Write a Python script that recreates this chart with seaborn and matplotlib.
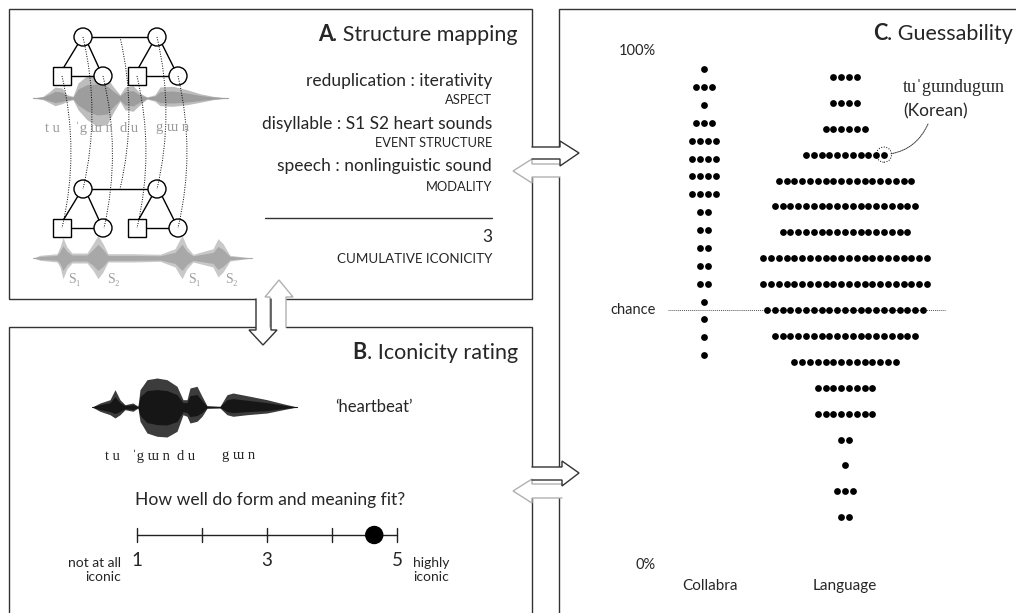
import matplotlib
matplotlib.use("Agg")
import matplotlib.pyplot as plt
from matplotlib.patches import Circle, Rectangle, Polygon, PathPatch, ConnectionPatch
from matplotlib.path import Path
import pandas as pd
import seaborn as sns

sns.set_theme(style="white")
plt.rcParams['font.family'] = ['Lato', 'DejaVu Sans']
SERIF = ['Liberation Serif', 'DejaVu Serif']

# ---- panel C: guessability (percent correct per item, one row per bin) ----
groups = ["Collabra", "Language"]
collabra_levels = [96.5, 93.0, 89.6, 86.1, 82.7, 79.2, 75.8, 72.3, 68.9,
                   65.4, 62.0, 58.5, 55.1, 51.6, 48.2, 44.7, 41.3]
collabra_counts = [1, 3, 1, 3, 4, 4, 4, 4, 2, 2, 2, 2, 2, 1, 1, 1, 1]
language_levels = [95, 90, 85, 80, 75, 70, 65, 60, 55, 50, 45, 40, 35, 30, 25, 20, 15, 10]
language_counts = [4, 4, 6, 11, 18, 19, 17, 22, 22, 21, 19, 14, 8, 8, 2, 1, 3, 2]
chance_level = 50
highlight_level = 80      # row of tu'gɯndugɯn (Korean)
highlight_index = 10      # rightmost dot of that row

# ---- panel B: rating ----
scale_ticks = [1, 2, 3, 4, 5]
scale_labels = {1: "1", 3: "3", 5: "5"}
rating = 4.65

# ---- waveform envelopes (x px, amplitude up / down px) ----
wave_a1_x = [33, 43, 50, 55, 62, 67, 73, 78, 87, 97, 107, 113, 120, 125, 133, 140, 147, 155, 160, 173, 187, 200, 213, 228]
wave_a1_up = [0, 1.7, 6.7, 11, 10, 3.3, 1.7, 15, 22.3, 23.3, 20, 11.7, 3.3, 11, 12.3, 5, 1, 3.3, 11, 11.7, 8.3, 4.3, 1.7, 0]
wave_a1_dn = [0, 1.7, 5, 7.7, 5.7, 3.3, 1.7, 11.7, 21.7, 28.3, 26.7, 15, 3.3, 11.7, 13.3, 6.7, 1, 3.3, 7.7, 8.3, 6.7, 4.3, 1.7, 0]

wave_a2_x = [33, 40, 57, 60, 63, 67, 72, 87, 93, 98, 103, 108, 133, 160, 175, 182, 187, 193, 213, 218, 223, 230, 252]
wave_a2_up = [0, 2.7, 4.3, 11, 20.3, 11, 5, 5, 14.3, 22.7, 14.3, 4.3, 4.3, 3.7, 9.3, 22.7, 11, 3.7, 9.3, 19.3, 14.3, 2.7, 0]
wave_a2_dn = [0, 2.3, 4, 9, 20.7, 10.7, 5, 5, 12.3, 20.7, 14, 4, 4, 3.3, 9, 20.7, 10.7, 4, 9, 19, 14, 3, 0]

wave_b_x = [92, 100, 110, 115, 120, 125, 133, 138, 140, 147, 157, 167, 177, 183, 187, 190, 197, 202, 207, 220, 227, 233, 247, 267, 283, 297]
wave_b_up = [0, 4, 7.3, 17.3, 7.3, 2.3, 4, 0.7, 17.3, 27.3, 29, 27.3, 20.7, 7.3, 7.3, 19, 20.7, 10.7, 1.3, 0.7, 12.3, 14, 11.3, 7.3, 3.3, 0]
wave_b_dn = [0, 4.3, 7.7, 11, 7.7, 2.7, 4.3, 1, 14.3, 26, 29.3, 30, 24.3, 7.7, 9.3, 16, 14.3, 9.3, 1.3, 1, 7.7, 9.3, 7.7, 6, 2.7, 0]

W, H = 1016, 613
fig = plt.figure(figsize=(W / 100, H / 100), dpi=100)
bg = fig.add_axes([0, 0, 1, 1])
bg.set_xlim(0, W)
bg.set_ylim(H, 0)
bg.axis('off')

EDGE = '#333333'
LIGHT = '#b0b0b0'


def seg(pts, color=EDGE, lw=1.0, z=2, **kw):
    xs, ys = zip(*pts)
    bg.plot(xs, ys, color=color, lw=lw, zorder=z, solid_joinstyle='miter', **kw)


def arrow(pts, color):
    bg.add_patch(Polygon(pts, closed=True, facecolor='white', edgecolor='none', zorder=3))
    seg(pts, color=color, z=4)


# panel frames
seg([(256, 299), (9, 299), (9, 9), (532, 9), (532, 147)])
seg([(532, 177), (532, 299), (286, 299)])
seg([(256, 327), (9, 327), (9, 613)])
seg([(286, 327), (532, 327), (532, 467)])
seg([(532, 498), (532, 613)])
seg([(1016, 9), (559, 9), (559, 147)])
seg([(559, 177), (559, 467)])
seg([(559, 498), (559, 613)])

# connecting arrows
arrow([(560, 164), (532, 164), (532, 159), (513, 171), (532, 183), (532, 177), (560, 177)], LIGHT)
arrow([(532, 147), (560, 147), (560, 141), (579, 153), (560, 166), (560, 159), (532, 159)], EDGE)
arrow([(562, 484), (532, 484), (532, 479), (513, 491), (532, 503), (532, 498), (562, 498)], LIGHT)
arrow([(532, 467), (562, 467), (562, 461), (579, 473), (562, 486), (562, 480), (532, 480)], EDGE)
arrow([(270, 327), (270, 297), (265, 297), (279, 280), (293, 297), (286, 297), (286, 327)], LIGHT)
arrow([(256, 299), (256, 330), (249, 330), (263, 345), (277, 330), (271, 330), (271, 299)], EDGE)


def waveform(xs, up, dn, base, color, core):
    # outer envelope plus a darker core, like a rendered speech waveform
    bg.fill_between(xs, [base - u for u in up], [base + d for d in dn],
                    color=color, lw=0, zorder=1)
    bg.fill_between(xs, [base - 0.6 * u for u in up], [base + 0.6 * d for d in dn],
                    color=core, lw=0, zorder=1)
    bg.plot([xs[0], xs[-1]], [base, base], color=core, lw=0.8, zorder=1)


# ---- panel A ----
waveform(wave_a1_x, wave_a1_up, wave_a1_dn, 98, '#bdbdbd', '#9d9d9d')
waveform(wave_a2_x, wave_a2_up, wave_a2_dn, 258, '#c8c8c8', '#a8a8a8')


def tree(yt, yb):
    for cx in (83, 157):
        bg.add_patch(Circle((cx, yt), 9, facecolor='white', edgecolor='black', lw=1.0, zorder=6))
    bg.plot([92, 148], [yt, yt], color='black', lw=1.0, zorder=5)
    for px, sx, cx in ((83, 62, 103), (157, 137, 178)):
        bg.add_patch(Rectangle((sx - 9, yb - 9), 18, 18, facecolor='white', edgecolor='black', lw=1.0, zorder=6))
        bg.add_patch(Circle((cx, yb), 9, facecolor='white', edgecolor='black', lw=1.0, zorder=6))
        bg.plot([sx + 9, cx - 9], [yb, yb], color='black', lw=1.0, zorder=5)
        bg.plot([px - 5, sx + 2], [yt + 7, yb - 9], color='black', lw=1.0, zorder=5)
        bg.plot([px + 5, cx - 4], [yt + 7, yb - 8], color='black', lw=1.0, zorder=5)


tree(37, 76)
tree(189, 228)

for (x0, y0), (x1, y1) in [((83, 37), (83, 189)), ((120, 37), (120, 189)), ((157, 37), (157, 189)),
                           ((62, 76), (62, 228)), ((103, 76), (104, 228)),
                           ((137, 76), (137, 228)), ((178, 76), (178, 228))]:
    path = Path([(x0, y0), ((x0 + x1) / 2 + 18, (y0 + y1) / 2), (x1, y1)],
                [Path.MOVETO, Path.CURVE3, Path.CURVE3])
    bg.add_patch(PathPatch(path, facecolor='none', edgecolor='black', lw=0.7,
                           linestyle=(0, (1, 1.5)), zorder=7))

for txt, x in [("t u", 52), ("ˈg ɯ n", 94), ("d u", 129), ("g ɯ n", 173)]:
    bg.text(x, 128, txt, ha='center', va='center', fontsize=10.5, color='#9a9a9a', family=SERIF, zorder=8)
for txt, x in [("S₁", 68), ("S₂", 107), ("S₁", 188), ("S₂", 225)]:
    bg.text(x, 279, txt, ha='left', va='center', fontsize=10, color='#a0a0a0', family=SERIF, zorder=8)

renderer = fig.canvas.get_renderer()


def panel_title(x, y, letter, rest):
    t = bg.text(x, y, rest, ha='right', va='baseline', fontsize=15.5)
    bb = t.get_window_extent(renderer=renderer)
    xl = bg.transData.inverted().transform((bb.x0, bb.y0))[0]
    bg.text(xl, y, letter, ha='right', va='baseline', fontsize=15.5, fontweight='bold')


panel_title(518, 41, "A", ". Structure mapping")
panel_title(518, 359, "B", ". Iconicity rating")
panel_title(1013, 40, "C", ". Guessability")

for txt, y, fs in [("reduplication : iterativity", 81, 12.5), ("ASPECT", 100, 9.3),
                   ("disyllable : S1 S2 heart sounds", 124, 12.5), ("EVENT STRUCTURE", 143, 9.3),
                   ("speech : nonlinguistic sound", 166, 12.5), ("MODALITY", 187, 9.3),
                   ("3", 237, 12.5), ("CUMULATIVE ICONICITY", 259, 9.6)]:
    bg.text(492, y, txt, ha='right', va='center', fontsize=fs)
bg.plot([265, 492], [218, 218], color='#333333', lw=1.0)

# ---- panel B ----
waveform(wave_b_x, wave_b_up, wave_b_dn, 407, '#3c3c3c', '#161616')
bg.text(335, 407, "‘heartbeat’", ha='left', va='center', fontsize=12)
for txt, x in [("t u", 112), ("ˈg ɯ n", 151), ("d u", 186), ("g ɯ n", 239)]:
    bg.text(x, 456, txt, ha='center', va='center', fontsize=10.5, color='#222222', family=SERIF)
bg.text(135, 500, "How well do form and meaning fit?", ha='left', va='center', fontsize=12.6)

sx0, sx1, sy = 137, 397, 535
step = (sx1 - sx0) / (scale_ticks[-1] - scale_ticks[0])
bg.plot([sx0, sx1], [sy, sy], color='#222222', lw=1.0)
for v in scale_ticks:
    xv = sx0 + (v - scale_ticks[0]) * step
    bg.plot([xv, xv], [sy - 7, sy + 7], color='#222222', lw=1.0)
    if v in scale_labels:
        bg.text(xv, 561, scale_labels[v], ha='center', va='center', fontsize=13.5)
bg.add_patch(Circle((sx0 + (rating - scale_ticks[0]) * step, sy), 8.5, color='black', zorder=5))
bg.text(121, 570, "not at all\niconic", ha='right', va='center', fontsize=10, linespacing=1.25, multialignment='right')
bg.text(413, 570, "highly\niconic", ha='left', va='center', fontsize=10, linespacing=1.25)

# ---- panel C: dot plot ----
axc = fig.add_axes([600 / W, (H - 569) / H, 400 / W, 518 / H])
axc.patch.set_alpha(0)
axc.set_xlim(-104 / 141, 296 / 141)
axc.set_ylim(0, 100)
axc.axis('off')

DX = 7.8 / 141
rows = []
for gi, (levels, counts) in enumerate([(collabra_levels, collabra_counts),
                                       (language_levels, language_counts)]):
    for lv, n in zip(levels, counts):
        for k in range(n):
            rows.append({"group": groups[gi], "pct": lv, "x": gi + (k - (n - 1) / 2) * DX})
dots = pd.DataFrame(rows)

axc.plot([-0.255, 1.71], [chance_level, chance_level], color='#555555', lw=0.7,
         linestyle=(0, (1, 1)), zorder=1)
sns.scatterplot(data=dots, x="x", y="pct", color="black", s=24, linewidth=0,
                legend=False, ax=axc, zorder=3)
axc.set_xlabel("")
axc.set_ylabel("")

n_hl = language_counts[language_levels.index(highlight_level)]
hx = 1 + (highlight_index - (n_hl - 1) / 2) * DX
axc.scatter([hx], [highlight_level], s=120, facecolors='none', edgecolors='black',
            linewidths=0.7, linestyles=':', zorder=4)

axc.text(-0.34, 100, "100%", ha='right', va='center', fontsize=10.5)
axc.text(-0.34, 50, "chance", ha='right', va='center', fontsize=10.5)
axc.text(-0.34, 0.8, "0%", ha='right', va='center', fontsize=10.5)
for gi, g in enumerate(groups):
    axc.text(gi + (0.04 if gi == 0 else 0), -3.3, g, ha='center', va='center', fontsize=11, clip_on=False)

bg.text(903, 88, "tuˈgɯndugɯn", ha='left', va='center', fontsize=13, family=SERIF)
bg.text(903, 111, "(Korean)", ha='left', va='center', fontsize=12.5)
con = ConnectionPatch(xyA=(928, 124), coordsA=bg.transData, xyB=(hx, highlight_level), coordsB=axc.transData,
                      connectionstyle="arc3,rad=-0.3", linestyle=(0, (1, 1)), lw=0.7, color='#333333',
                      shrinkA=0, shrinkB=5)
fig.add_artist(con)

fig.savefig("out.png", dpi=100, facecolor='white')
